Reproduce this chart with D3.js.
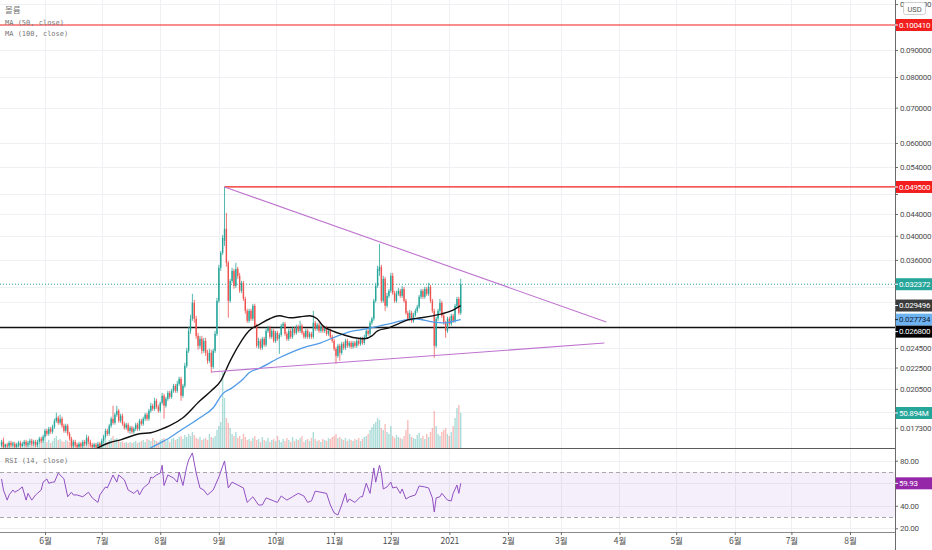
<!DOCTYPE html>
<html>
<head>
<meta charset="utf-8">
<script src="https://cdn.jsdelivr.net/npm/d3@7"></script>
<style>
    body { margin: 0; background: #fff; }
    svg { display: block; }
</style>
</head>
<body>
<div class="chart"></div>
<script>
// daily candles starting 2020-05-09, [open, high, low, close] in USD
const startDay = Date.UTC(2020, 4, 9);
const candles = [
    [0.01606,0.01641,0.01592,0.01627],[0.01627,0.01656,0.01578,0.01592],[0.01592,0.01613,0.01585,0.01606],
    [0.01606,0.01620,0.01585,0.01599],[0.01599,0.01634,0.01585,0.01620],[0.01620,0.01634,0.01592,0.01606],
    [0.01606,0.01627,0.01592,0.01613],[0.01613,0.01627,0.01578,0.01592],[0.01592,0.01620,0.01585,0.01606],
    [0.01606,0.01634,0.01592,0.01620],[0.01620,0.01634,0.01585,0.01599],[0.01599,0.01627,0.01592,0.01613],
    [0.01613,0.01641,0.01599,0.01627],[0.01627,0.01641,0.01592,0.01606],[0.01606,0.01634,0.01592,0.01620],
    [0.01620,0.01649,0.01606,0.01634],[0.01634,0.01649,0.01599,0.01613],[0.01613,0.01641,0.01599,0.01627],
    [0.01627,0.01641,0.01592,0.01606],[0.01606,0.01641,0.01592,0.01627],[0.01627,0.01663,0.01613,0.01649],
    [0.01649,0.01663,0.01620,0.01634],[0.01634,0.01678,0.01620,0.01663],[0.01663,0.01722,0.01649,0.01707],
    [0.01707,0.01722,0.01670,0.01685],[0.01685,0.01737,0.01670,0.01722],[0.01722,0.01737,0.01685,0.01700],
    [0.01700,0.01753,0.01685,0.01737],[0.01737,0.01799,0.01722,0.01783],[0.01783,0.01847,0.01768,0.01807],
    [0.01807,0.01823,0.01753,0.01768],[0.01768,0.01831,0.01753,0.01799],[0.01799,0.01815,0.01730,0.01745],
    [0.01745,0.01760,0.01692,0.01707],[0.01707,0.01760,0.01692,0.01745],[0.01745,0.01760,0.01670,0.01685],
    [0.01685,0.01700,0.01634,0.01649],[0.01649,0.01663,0.01585,0.01599],[0.01599,0.01641,0.01585,0.01627],
    [0.01627,0.01641,0.01592,0.01606],[0.01606,0.01620,0.01578,0.01592],[0.01592,0.01627,0.01585,0.01613],
    [0.01613,0.01627,0.01585,0.01599],[0.01599,0.01641,0.01585,0.01627],[0.01627,0.01641,0.01599,0.01613],
    [0.01613,0.01678,0.01599,0.01656],[0.01656,0.01670,0.01613,0.01627],[0.01627,0.01641,0.01592,0.01606],
    [0.01606,0.01620,0.01578,0.01592],[0.01592,0.01620,0.01585,0.01606],[0.01606,0.01620,0.01578,0.01592],
    [0.01592,0.01627,0.01585,0.01613],[0.01613,0.01627,0.01585,0.01599],[0.01599,0.01649,0.01585,0.01634],
    [0.01634,0.01678,0.01620,0.01663],[0.01663,0.01722,0.01649,0.01707],[0.01707,0.01722,0.01670,0.01685],
    [0.01685,0.01760,0.01670,0.01745],[0.01745,0.01815,0.01730,0.01799],[0.01799,0.01904,0.01753,0.01768],
    [0.01768,0.01847,0.01753,0.01831],[0.01831,0.01904,0.01815,0.01863],[0.01863,0.01879,0.01768,0.01783],
    [0.01783,0.01839,0.01768,0.01823],[0.01823,0.01839,0.01745,0.01760],[0.01760,0.01776,0.01715,0.01730],
    [0.01730,0.01768,0.01715,0.01753],[0.01753,0.01768,0.01692,0.01707],[0.01707,0.01745,0.01685,0.01730],
    [0.01730,0.01745,0.01685,0.01700],[0.01700,0.01737,0.01685,0.01722],[0.01722,0.01768,0.01707,0.01753],
    [0.01753,0.01768,0.01707,0.01722],[0.01722,0.01799,0.01707,0.01783],[0.01783,0.01799,0.01745,0.01760],
    [0.01760,0.01815,0.01745,0.01799],[0.01799,0.01847,0.01783,0.01831],[0.01831,0.01847,0.01783,0.01799],
    [0.01799,0.01879,0.01783,0.01863],[0.01863,0.01929,0.01847,0.01904],[0.01904,0.01921,0.01863,0.01879],
    [0.01879,0.01972,0.01863,0.01946],[0.01946,0.01963,0.01879,0.01896],[0.01896,0.01913,0.01847,0.01863],
    [0.01863,0.01938,0.01847,0.01929],[0.01929,0.02015,0.01913,0.01989],[0.01989,0.02006,0.01799,0.01904],
    [0.01904,0.01980,0.01888,0.01963],[0.01963,0.02033,0.01946,0.02015],[0.02015,0.02033,0.01963,0.01980],
    [0.01980,0.02050,0.01963,0.02033],[0.02033,0.02095,0.02015,0.02077],[0.02077,0.02095,0.02015,0.02033],
    [0.02033,0.02123,0.02015,0.02095],[0.02095,0.02161,0.02077,0.02142],[0.02142,0.02161,0.01946,0.01989],
    [0.01989,0.02095,0.01972,0.02077],[0.02077,0.02297,0.02059,0.02267],[0.02267,0.02452,0.02247,0.02420],
    [0.02420,0.02688,0.02399,0.02641],[0.02641,0.02833,0.02607,0.02784],[0.02784,0.03104,0.02759,0.02985],
    [0.02985,0.03024,0.02735,0.02784],[0.02784,0.02820,0.02551,0.02584],[0.02584,0.02618,0.02431,0.02474],
    [0.02474,0.02584,0.02442,0.02551],[0.02551,0.02584,0.02389,0.02420],[0.02420,0.02562,0.02399,0.02528],
    [0.02528,0.02562,0.02368,0.02399],[0.02399,0.02431,0.02287,0.02317],[0.02317,0.02442,0.02297,0.02399],
    [0.02399,0.02431,0.02199,0.02257],[0.02257,0.02442,0.02237,0.02420],[0.02420,0.02641,0.02399,0.02607],
    [0.02607,0.03050,0.02584,0.03011],[0.03011,0.03524,0.02985,0.03478],[0.03478,0.03745,0.03432,0.03712],
    [0.03712,0.04016,0.03680,0.03963],[0.03912,0.04950,0.03827,0.04122],[0.04122,0.04421,0.03493,0.03554],
    [0.03554,0.03585,0.02796,0.03011],[0.03011,0.03314,0.02985,0.03285],[0.03285,0.03478,0.03256,0.03432],
    [0.03432,0.03462,0.03172,0.03214],[0.03214,0.03554,0.03186,0.03462],[0.03462,0.03493,0.03314,0.03358],
    [0.03358,0.03402,0.03117,0.03145],[0.03145,0.03285,0.03117,0.03256],[0.03256,0.03285,0.03011,0.03037],
    [0.03037,0.03064,0.02845,0.02882],[0.02882,0.02908,0.02735,0.02759],[0.02759,0.02908,0.02735,0.02882],
    [0.02882,0.02908,0.02759,0.02784],[0.02784,0.02972,0.02759,0.02946],[0.02946,0.02972,0.02676,0.02700],
    [0.02700,0.02723,0.02452,0.02474],[0.02474,0.02562,0.02442,0.02528],[0.02528,0.02551,0.02431,0.02452],
    [0.02452,0.02573,0.02431,0.02551],[0.02551,0.02573,0.02463,0.02485],[0.02485,0.02665,0.02463,0.02641],
    [0.02641,0.02700,0.02618,0.02676],[0.02676,0.02700,0.02551,0.02573],[0.02573,0.02665,0.02551,0.02641],
    [0.02641,0.02665,0.02507,0.02528],[0.02528,0.02641,0.02507,0.02618],[0.02618,0.02641,0.02528,0.02551],
    [0.02551,0.02618,0.02389,0.02596],[0.02596,0.02723,0.02573,0.02700],[0.02700,0.02747,0.02676,0.02723],
    [0.02723,0.02747,0.02584,0.02607],[0.02607,0.02630,0.02528,0.02551],[0.02551,0.02665,0.02528,0.02641],
    [0.02641,0.02665,0.02551,0.02573],[0.02573,0.02688,0.02551,0.02665],[0.02665,0.02688,0.02596,0.02618],
    [0.02618,0.02712,0.02596,0.02688],[0.02688,0.02712,0.02618,0.02641],[0.02641,0.02759,0.02618,0.02700],
    [0.02700,0.02723,0.02596,0.02618],[0.02618,0.02641,0.02551,0.02573],[0.02573,0.02665,0.02551,0.02641],
    [0.02641,0.02665,0.02551,0.02573],[0.02573,0.02630,0.02551,0.02607],[0.02607,0.02630,0.02551,0.02573],
    [0.02573,0.02882,0.02551,0.02735],[0.02735,0.02759,0.02641,0.02665],[0.02665,0.02735,0.02641,0.02712],
    [0.02712,0.02735,0.02618,0.02641],[0.02641,0.02712,0.02618,0.02688],[0.02688,0.02712,0.02618,0.02641],
    [0.02641,0.02700,0.02618,0.02676],[0.02676,0.02700,0.02584,0.02607],[0.02607,0.02665,0.02584,0.02641],
    [0.02641,0.02665,0.02551,0.02573],[0.02573,0.02596,0.02507,0.02528],[0.02528,0.02551,0.02420,0.02442],
    [0.02442,0.02463,0.02287,0.02368],[0.02368,0.02496,0.02348,0.02474],[0.02474,0.02496,0.02317,0.02399],
    [0.02399,0.02517,0.02379,0.02496],[0.02496,0.02517,0.02431,0.02452],[0.02452,0.02551,0.02431,0.02528],
    [0.02528,0.02551,0.02452,0.02474],[0.02474,0.02528,0.02452,0.02507],[0.02507,0.02528,0.02442,0.02463],
    [0.02463,0.02528,0.02442,0.02507],[0.02507,0.02528,0.02452,0.02474],[0.02474,0.02551,0.02452,0.02528],
    [0.02528,0.02551,0.02474,0.02496],[0.02496,0.02573,0.02474,0.02551],[0.02551,0.02573,0.02485,0.02507],
    [0.02507,0.02596,0.02485,0.02573],[0.02573,0.02665,0.02551,0.02641],[0.02641,0.02665,0.02584,0.02607],
    [0.02607,0.02759,0.02584,0.02735],[0.02735,0.02808,0.02712,0.02784],[0.02784,0.03037,0.02759,0.03011],
    [0.03011,0.03256,0.02985,0.03214],[0.03214,0.03508,0.03186,0.03462],[0.03432,0.03861,0.03358,0.03493],
    [0.03493,0.03524,0.02985,0.03011],[0.03011,0.03358,0.02985,0.03314],[0.03314,0.03343,0.02882,0.02946],
    [0.02946,0.03117,0.02921,0.03077],[0.03077,0.03172,0.03050,0.03145],[0.03145,0.03402,0.03117,0.03358],
    [0.03358,0.03402,0.03090,0.03117],[0.03117,0.03145,0.02985,0.03011],[0.03011,0.03145,0.02985,0.03104],
    [0.03104,0.03186,0.03077,0.03145],[0.03145,0.03172,0.03050,0.03077],[0.03077,0.03214,0.03050,0.03172],
    [0.03172,0.03200,0.02985,0.03011],[0.03011,0.03037,0.02833,0.02857],[0.02857,0.02882,0.02759,0.02784],
    [0.02784,0.02895,0.02759,0.02857],[0.02857,0.02882,0.02735,0.02759],[0.02759,0.02857,0.02735,0.02833],
    [0.02833,0.02908,0.02808,0.02882],[0.02882,0.02959,0.02857,0.02933],[0.02933,0.03090,0.02908,0.03064],
    [0.03064,0.03172,0.03037,0.03145],[0.03145,0.03172,0.03037,0.03064],[0.03064,0.03200,0.03037,0.03172],
    [0.03172,0.03200,0.03077,0.03104],[0.03104,0.03256,0.03077,0.03200],[0.03200,0.03228,0.02985,0.03011],
    [0.03011,0.03037,0.02857,0.02882],[0.02882,0.02908,0.02348,0.02474],[0.02474,0.02808,0.02452,0.02784],
    [0.02784,0.02908,0.02759,0.02882],[0.02882,0.03037,0.02857,0.02985],[0.02985,0.03011,0.02796,0.02820],
    [0.02820,0.02845,0.02712,0.02735],[0.02735,0.02759,0.02562,0.02641],[0.02641,0.02808,0.02618,0.02784],
    [0.02784,0.02808,0.02700,0.02723],[0.02723,0.02845,0.02700,0.02820],[0.02820,0.02845,0.02735,0.02759],
    [0.02759,0.02972,0.02735,0.02946],[0.02946,0.03064,0.02921,0.03037],[0.03037,0.03064,0.02833,0.02857],
    [0.02857,0.03314,0.02833,0.032372]
];

// daily volume, millions
const volumes = [
    7.3,11.6,5.8,4.4,7.3,5.8,8.7,4.4,5.8,7.3,4.4,5.8,8.7,5.8,4.4,7.3,5.8,4.4,8.7,5.8,7.3,10.2,8.7,
    13.1,8.7,11.6,7.3,10.2,14.5,17.4,11.6,13.1,10.2,8.7,11.6,10.2,8.7,13.1,
    7.3,5.8,4.4,5.8,7.3,4.4,5.8,11.6,7.3,5.8,4.4,5.8,4.4,5.8,7.3,
    10.2,8.7,13.1,8.7,11.6,14.5,17.4,13.1,14.5,11.6,8.7,10.2,7.3,8.7,7.3,8.7,7.3,8.7,10.2,7.3,8.7,10.2,11.6,8.7,13.1,11.6,10.2,14.5,11.6,10.2,8.7,
    11.6,13.1,14.5,10.2,11.6,8.7,13.1,14.5,11.6,13.1,16.0,17.4,13.1,18.9,16.0,20.4,17.4,23.3,18.9,14.5,
    13.1,16.0,11.6,13.1,14.5,11.6,20.4,16.0,14.5,17.4,26.2,32.0,37.8,
    110.5,72.7,43.6,36.4,29.1,20.4,17.4,23.3,14.5,17.4,13.1,20.4,16.0,11.6,
    13.1,10.2,14.5,17.4,11.6,13.1,8.7,16.0,11.6,10.2,14.5,8.7,11.6,13.1,10.2,17.4,11.6,8.7,13.1,10.2,
    14.5,11.6,8.7,16.0,10.2,13.1,11.6,14.5,17.4,8.7,11.6,13.1,10.2,14.5,23.3,13.1,10.2,11.6,8.7,13.1,
    11.6,10.2,14.5,13.1,16.0,
    17.4,20.4,14.5,16.0,13.1,11.6,14.5,10.2,13.1,11.6,10.2,13.1,11.6,14.5,10.2,13.1,16.0,17.4,20.4,26.2,30.5,
    34.9,37.8,43.6,40.7,29.1,26.2,34.9,23.3,20.4,32.0,17.4,14.5,18.9,16.0,
    14.5,13.1,17.4,26.2,40.7,20.4,16.0,14.5,13.1,18.9,21.8,14.5,17.4,13.1,20.4,16.0,23.3,29.1,
    53.8,32.0,20.4,17.4,23.3,26.2,29.1,20.4,17.4,23.3,32.0,43.6,58.2,62.5,50.894
];

// moving averages: [day after startDay, value]
const ma50 = [[47,0.01551],[52,0.01592],[57,0.01620],[63,0.01641],[73,0.01685],[79,0.01692],[84,0.01715],
    [89,0.01745],[96,0.01807],[105,0.01946],[111,0.02033],[116,0.02123],[121,0.02317],[126,0.02496],
    [131,0.02641],[137,0.02723],[142,0.02784],[147,0.02820],[153,0.02796],[158,0.02808],[163,0.02820],
    [167,0.02784],[170,0.02700],[175,0.02641],[181,0.02596],[187,0.02562],[192,0.02551],[196,0.02584],
    [199,0.02641],[205,0.02676],[210,0.02723],[215,0.02771],[222,0.02796],[228,0.02820],[233,0.02845],
    [238,0.02882],[243,0.029496]];
const ma100 = [[75,0.01555],[79,0.01585],[89,0.01656],[96,0.01722],[105,0.01807],[112,0.01888],[117,0.02006],
    [122,0.02059],[128,0.02142],[131,0.02199],[137,0.02247],[147,0.02348],[158,0.02442],[169,0.02507],
    [178,0.02584],[184,0.02630],[190,0.02653],[198,0.02688],[205,0.02723],[214,0.02771],[219,0.02784],
    [228,0.02747],[235,0.02735],[240,0.02759],[243,0.027734]];

// RSI(14): [day after startDay, value]
const rsi = [[0,63.8],[1,54],[3,45],[4,49.6],[6,54],[7,52],[9,54],[11,56.7],[13,45],[14,51],[16,45],[18,49.6],
    [19,51],[21,54],[22,61],[24,63.8],[25,60],[27,61],[28,61],[30,69],[33,64],[35,48],[37,52],[38,49.6],
    [40,49.6],[43,48],[46,52],[48,47],[51,43],[52,49.6],[55,56.7],[56,55.8],[59,67.3],[61,61],[62,67.3],
    [65,63],[67,54],[70,51],[72,54],[73,49.6],[75,55.8],[78,60],[79,65.5],[80,64.7],[82,67.3],[84,69],
    [85,76],[86,58],[88,67.3],[91,64.7],[93,61],[94,70],[96,58],[98,74.7],[99,80.7],[101,86.9],[103,69],
    [105,55.8],[107,54],[109,49.6],[112,54],[115,65.5],[118,79.8],[120,55.8],[122,61],[125,58.4],
    [128,55.8],[130,43],[133,48],[136,40.7],[138,40.7],[140,47],[144,44.3],[146,43],[148,48.7],[151,45],
    [154,48],[157,51],[160,48.7],[162,43],[164,44.3],[166,53],[169,52],[172,51],[174,40.7],[176,33.6],
    [178,31.8],[180,40.7],[182,51],[183,43],[184,46],[187,43],[190,48],[191,48],[193,60],[195,51],
    [197,73.6],[198,61],[200,76],[201,69],[202,54.9],[204,56.7],[206,61],[207,55.8],[209,56.7],[211,51],
    [212,54.9],[214,46],[216,48],[219,49.6],[221,57.6],[224,56.7],[226,55.8],[228,47],[229,34.4],
    [230,47],[232,48],[233,51],[236,45],[238,44.3],[239,51],[241,58.4],[242,51],[243,59.93]];

const levelPrices = [0.10041, 0.0495, 0.0268];
const levelFromDay = [0, 118, 0];
const upperTrend = [[118, 0.0495], [320, 0.02745]];
const lowerTrend = [[111, 0.02207], [319, 0.02504]];
const priceTicks = [0.11, 0.09, 0.08, 0.07, 0.06, 0.054, 0.048, 0.044, 0.04, 0.036, 0.032, 0.03,
    0.0245, 0.0225, 0.0205, 0.0185, 0.0173];
const rsiTicks = [20, 40, 60, 80];
const rsiBand = [70, 30];
const monthLabels = ["6월", "7월", "8월", "9월", "10월", "11월", "12월", "2021",
    "2월", "3월", "4월", "5월", "6월", "7월", "8월"];

function draw() {
    const width = 932, height = 550;
    const plotRight = 895;
    const mainBottom = 448, rsiTop = 449, rsiBottom = 532;
    const up = "#26a69a", down = "#ef5350";
    const gridColor = "#eef0f4";
    const axisFont = "Roboto, 'Liberation Sans', sans-serif";

    const svg = d3.select(".chart").append("svg")
        .attr("width", width)
        .attr("height", height)
        .style("background", "#fff");

    const dayDate = d => new Date(startDay + d * 864e5);

    const x = d3.scaleUtc()
        .domain([Date.UTC(2020, 5, 1), Date.UTC(2021, 7, 1)])
        .range([45, 850]);
    const xd = d => x(dayDate(d));

    const y = d3.scaleLog()
        .domain([0.015834, 0.11199])
        .range([mainBottom, 0]);

    const yRsi = d3.scaleLinear()
        .domain([16.7, 90.4])
        .range([rsiBottom, rsiTop]);

    const vScale = d3.scaleLinear()
        .domain([0, d3.max(volumes)])
        .range([mainBottom, mainBottom - 76]);

    const defs = svg.append("defs");
    defs.append("clipPath").attr("id", "clipMain")
        .append("rect").attr("x", 0).attr("y", 0).attr("width", plotRight).attr("height", mainBottom);
    defs.append("clipPath").attr("id", "clipRsi")
        .append("rect").attr("x", 0).attr("y", rsiTop).attr("width", plotRight).attr("height", rsiBottom - rsiTop);

    // grid
    const months = d3.utcMonth.range(new Date(Date.UTC(2020, 5, 1)), new Date(Date.UTC(2021, 8, 1)));
    svg.append("g").selectAll("line")
        .data(months)
        .join("line")
        .attr("x1", d => Math.round(x(d)) + 0.5)
        .attr("x2", d => Math.round(x(d)) + 0.5)
        .attr("y1", 0)
        .attr("y2", rsiBottom)
        .attr("stroke", gridColor);

    svg.append("g").selectAll("line")
        .data(priceTicks)
        .join("line")
        .attr("x1", 0).attr("x2", plotRight)
        .attr("y1", d => Math.round(y(d)) + 0.5)
        .attr("y2", d => Math.round(y(d)) + 0.5)
        .attr("stroke", gridColor);

    svg.append("g").selectAll("line")
        .data(rsiTicks)
        .join("line")
        .attr("x1", 0).attr("x2", plotRight)
        .attr("y1", d => Math.round(yRsi(d)) + 0.5)
        .attr("y2", d => Math.round(yRsi(d)) + 0.5)
        .attr("stroke", gridColor);

    const main = svg.append("g").attr("clip-path", "url(#clipMain)");

    // volume
    main.append("g").selectAll("rect")
        .data(volumes)
        .join("rect")
        .attr("x", (d, i) => xd(i) - 0.7)
        .attr("width", 1.4)
        .attr("y", d => vScale(d))
        .attr("height", d => mainBottom - vScale(d))
        .attr("fill", (d, i) => candles[i][3] >= candles[i][0] ? up : down)
        .attr("opacity", 0.38);

    // last price dotted line
    const last = candles[candles.length - 1][3];
    main.append("line")
        .attr("x1", 0).attr("x2", plotRight)
        .attr("y1", y(last)).attr("y2", y(last))
        .attr("stroke", up)
        .attr("stroke-dasharray", "1,2");

    // horizontal levels
    main.append("g").selectAll("line")
        .data(levelPrices)
        .join("line")
        .attr("x1", (d, i) => i === 1 ? xd(levelFromDay[i]) : 0)
        .attr("x2", plotRight)
        .attr("y1", d => y(d))
        .attr("y2", d => y(d))
        .attr("stroke", (d, i) => i === 2 ? "#111" : "#f21d1d")
        .attr("stroke-width", (d, i) => i === 2 ? 1.4 : 1.2);

    // candles
    const candleG = main.append("g");
    candleG.selectAll("line")
        .data(candles)
        .join("line")
        .attr("x1", (d, i) => xd(i))
        .attr("x2", (d, i) => xd(i))
        .attr("y1", d => y(d[1]))
        .attr("y2", d => y(d[2]))
        .attr("stroke", d => d[3] >= d[0] ? up : down)
        .attr("stroke-width", 0.8);
    candleG.selectAll("rect")
        .data(candles)
        .join("rect")
        .attr("x", (d, i) => xd(i) - 0.7)
        .attr("width", 1.4)
        .attr("y", d => y(Math.max(d[0], d[3])))
        .attr("height", d => Math.max(0.8, Math.abs(y(d[0]) - y(d[3]))))
        .attr("fill", d => d[3] >= d[0] ? up : down);

    // moving averages
    const maLine = d3.line()
        .x(d => xd(d[0]))
        .y(d => y(d[1]))
        .curve(d3.curveMonotoneX);
    main.append("path")
        .attr("d", maLine(ma100))
        .attr("fill", "none")
        .attr("stroke", "#4f9be8")
        .attr("stroke-width", 1.3);
    main.append("path")
        .attr("d", maLine(ma50))
        .attr("fill", "none")
        .attr("stroke", "#111")
        .attr("stroke-width", 1.4);

    // triangle trendlines
    [upperTrend, lowerTrend].forEach(t => {
        main.append("line")
            .attr("x1", xd(t[0][0])).attr("y1", y(t[0][1]))
            .attr("x2", xd(t[1][0])).attr("y2", y(t[1][1]))
            .attr("stroke", "#bf72cf")
            .attr("stroke-width", 1.1);
    });

    // RSI pane
    const rsiG = svg.append("g").attr("clip-path", "url(#clipRsi)");
    rsiG.append("rect")
        .attr("x", 0).attr("width", plotRight)
        .attr("y", yRsi(rsiBand[0]))
        .attr("height", yRsi(rsiBand[1]) - yRsi(rsiBand[0]))
        .attr("fill", "rgba(156, 100, 220, 0.1)");
    rsiG.selectAll(".band")
        .data(rsiBand)
        .join("line")
        .attr("class", "band")
        .attr("x1", 0).attr("x2", plotRight)
        .attr("y1", d => Math.round(yRsi(d)) + 0.5)
        .attr("y2", d => Math.round(yRsi(d)) + 0.5)
        .attr("stroke", "#a8a8a8")
        .attr("stroke-dasharray", "4,3");
    rsiG.append("path")
        .attr("d", d3.line().x(d => xd(d[0])).y(d => yRsi(d[1]))(rsi))
        .attr("fill", "none")
        .attr("stroke", "#9150c2")
        .attr("stroke-width", 1);

    // pane separators
    svg.append("line")
        .attr("x1", 0).attr("x2", plotRight)
        .attr("y1", mainBottom + 0.5).attr("y2", mainBottom + 0.5)
        .attr("stroke", "#5c5c5c");
    svg.append("line")
        .attr("x1", 0).attr("x2", plotRight)
        .attr("y1", rsiBottom + 0.5).attr("y2", rsiBottom + 0.5)
        .attr("stroke", "#8a8a8a");
    svg.append("line")
        .attr("x1", plotRight + 0.5).attr("x2", plotRight + 0.5)
        .attr("y1", 0).attr("y2", height)
        .attr("stroke", "#6a6a6a");

    // value tags on the price scale
    const fmt = d3.format(".6f");
    const maTags = [
        {y: y(last), text: fmt(last), bg: up, fg: "#fff"},
        {y: y(ma50[ma50.length - 1][1]), text: fmt(ma50[ma50.length - 1][1]), bg: "#3b3b3b", fg: "#fff"},
        {y: y(ma100[ma100.length - 1][1]), text: fmt(ma100[ma100.length - 1][1]), bg: "#6db3f2", fg: "#132033"},
        {y: y(levelPrices[2]), text: fmt(levelPrices[2]), bg: "#000", fg: "#fff"}
    ].sort((a, b) => a.y - b.y);
    for (let i = 1; i < maTags.length; i++) {
        if (maTags[i].y < maTags[i - 1].y + 12) maTags[i].y = maTags[i - 1].y + 12;
    }
    const tags = [
        {y: y(levelPrices[0]), text: fmt(levelPrices[0]), bg: "#f21d1d", fg: "#fff"},
        {y: y(levelPrices[1]), text: fmt(levelPrices[1]), bg: "#f21d1d", fg: "#fff"},
        ...maTags,
        {y: vScale(volumes[volumes.length - 1]), text: d3.format(".3f")(volumes[volumes.length - 1]) + "M", bg: up, fg: "#fff"}
    ];
    const rsiTag = {y: yRsi(rsi[rsi.length - 1][1]), text: d3.format(".2f")(rsi[rsi.length - 1][1]), bg: "#9526a8", fg: "#fff"};

    // axes; tick labels that sit under a value tag are left out
    const hidden = (v, list) => list.some(t => Math.abs(t.y - v) < 10);
    const priceAxis = svg.append("g")
        .attr("transform", "translate(" + plotRight + ",0)")
        .call(d3.axisRight(y).tickValues(priceTicks)
            .tickFormat(d => hidden(y(d), tags) ? "" : fmt(d))
            .tickSize(3).tickPadding(2));
    const rsiAxis = svg.append("g")
        .attr("transform", "translate(" + plotRight + ",0)")
        .call(d3.axisRight(yRsi).tickValues(rsiTicks)
            .tickFormat(d => hidden(yRsi(d), [rsiTag]) ? "" : d3.format(".2f")(d))
            .tickSize(3).tickPadding(2));
    const timeAxis = svg.append("g")
        .attr("transform", "translate(0," + rsiBottom + ")")
        .call(d3.axisBottom(x).tickValues(months).tickFormat((d, i) => monthLabels[i]).tickSize(3).tickPadding(3));

    [priceAxis, rsiAxis, timeAxis].forEach(a => {
        a.select(".domain").remove();
        a.selectAll("line").attr("stroke", "#6a6a6a");
        a.selectAll("text")
            .attr("fill", "#4e4e4e")
            .attr("font-family", axisFont)
            .attr("font-size", 8)
            .style("letter-spacing", "-0.3px");
    });
    timeAxis.selectAll("text").attr("font-size", 8.5).style("letter-spacing", "0px")
        .attr("font-family", "'Noto Sans CJK KR', Roboto, sans-serif");

    const tagG = svg.append("g");
    function tag(t) {
        tagG.append("rect")
            .attr("x", plotRight + 1).attr("y", t.y - 6)
            .attr("width", width - plotRight - 1).attr("height", 12)
            .attr("fill", t.bg);
        tagG.append("line")
            .attr("x1", plotRight).attr("x2", plotRight + 3)
            .attr("y1", t.y).attr("y2", t.y)
            .attr("stroke", t.fg);
        tagG.append("text")
            .attr("x", plotRight + 4).attr("y", t.y)
            .attr("dy", "0.35em")
            .attr("font-family", axisFont)
            .attr("font-size", 8)
            .style("letter-spacing", "-0.3px")
            .attr("fill", t.fg)
            .text(t.text);
    }
    tags.forEach(tag);
    tag(rsiTag);

    // currency box over the top tick
    svg.append("rect")
        .attr("x", 903.5).attr("y", 2.5).attr("width", 22).attr("height", 12).attr("rx", 2)
        .attr("fill", "#fff").attr("stroke", "#cfcfcf");
    svg.append("text")
        .attr("x", 914.5).attr("y", 9).attr("dy", "0.35em")
        .attr("text-anchor", "middle")
        .attr("font-family", axisFont).attr("font-size", 7.5)
        .attr("fill", "#555")
        .text("USD");

    // pane legends
    svg.append("text")
        .attr("x", 5).attr("y", 13)
        .attr("font-family", "'Noto Sans CJK KR', sans-serif")
        .attr("font-size", 8.5)
        .attr("fill", "#777")
        .text("볼륨");
    const mono = "'DejaVu Sans Mono', 'Liberation Mono', monospace";
    [["MA (50, close)", 25], ["MA (100, close)", 36], ["RSI (14, close)", 463]].forEach(l => {
        svg.append("text")
            .attr("x", 5).attr("y", l[1])
            .attr("font-family", mono)
            .attr("font-size", 7)
            .attr("fill", "#777")
            .text(l[0]);
    });
}

draw();
</script>
</body>
</html>
